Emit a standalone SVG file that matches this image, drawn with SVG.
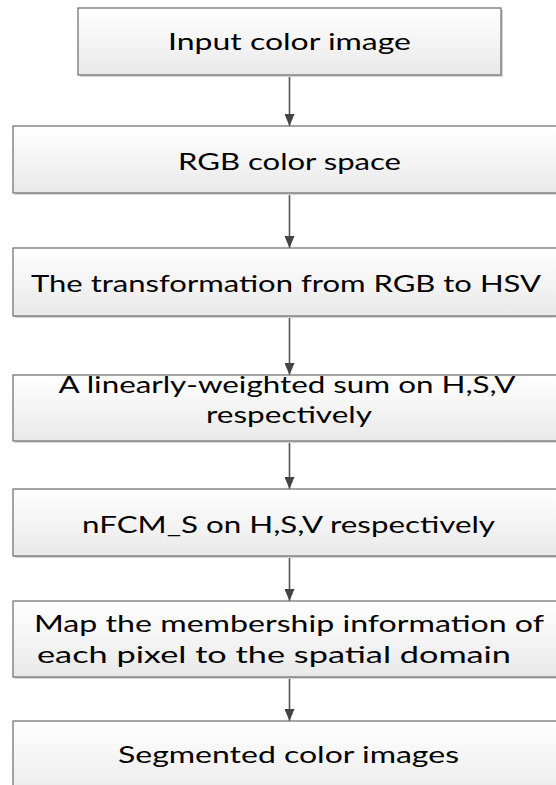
<svg xmlns="http://www.w3.org/2000/svg" width="556" height="785" viewBox="0 0 556 785">
<defs>
<linearGradient id="g" x1="0" y1="0" x2="0" y2="1">
<stop offset="0" stop-color="#ffffff"/>
<stop offset="1" stop-color="#e9e9e9"/>
</linearGradient>
<marker id="ah" markerWidth="12" markerHeight="10" refX="12" refY="5" orient="auto" markerUnits="userSpaceOnUse">
<path d="M0,0 L12,5 L0,10 Z" fill="#444"/>
</marker>
<style>
.sh{fill:#d6d6d6;}
.bx{fill:url(#g);stroke:#6a6a6a;stroke-width:1.2;}
.t{font-family:Lato,"Open Sans","DejaVu Sans",sans-serif;font-size:24px;fill:#000;text-anchor:middle;}
.c{stroke:#555;stroke-width:1.6;fill:none;marker-end:url(#ah);}
</style>
</defs>
<rect width="556" height="785" fill="#fff"/>
<g id="connectors">
<line class="c" x1="289.5" y1="75" x2="289.5" y2="126"/>
<line class="c" x1="289.5" y1="193" x2="289.5" y2="248"/>
<line class="c" x1="289.5" y1="316" x2="289.5" y2="375"/>
<line class="c" x1="289.5" y1="441" x2="289.5" y2="489"/>
<line class="c" x1="289.5" y1="556" x2="289.5" y2="601"/>
<line class="c" x1="289.5" y1="677" x2="289.5" y2="721"/>
</g>
<g id="n1">
<rect class="sh" x="80" y="10" width="423" height="67"/>
<rect class="bx" x="78" y="8" width="423" height="67"/>
<text class="t" x="289.5" y="50" textLength="243" lengthAdjust="spacingAndGlyphs">Input color image</text>
</g>
<g id="n2">
<rect class="sh" x="15" y="128" width="560" height="67"/>
<rect class="bx" x="13" y="126" width="560" height="67"/>
<text class="t" x="289.5" y="170" textLength="223" lengthAdjust="spacingAndGlyphs">RGB color space</text>
</g>
<g id="n3">
<rect class="sh" x="15" y="250" width="560" height="68"/>
<rect class="bx" x="13" y="248" width="560" height="68"/>
<text class="t" x="286" y="292" textLength="510" lengthAdjust="spacingAndGlyphs">The transformation from RGB to HSV</text>
</g>
<g id="n4">
<rect class="sh" x="15" y="377" width="560" height="66"/>
<rect class="bx" x="13" y="375" width="560" height="66"/>
<text class="t"><tspan x="287" y="393" textLength="457" lengthAdjust="spacingAndGlyphs">A linearly-weighted sum on H,S,V</tspan><tspan x="289" y="423" textLength="166" lengthAdjust="spacingAndGlyphs">respectively</tspan></text>
</g>
<g id="n5">
<rect class="sh" x="15" y="491" width="560" height="67"/>
<rect class="bx" x="13" y="489" width="560" height="67"/>
<text class="t" x="288.5" y="533" textLength="413" lengthAdjust="spacingAndGlyphs">nFCM_S on H,S,V respectively</text>
</g>
<g id="n6">
<rect class="sh" x="15" y="603" width="560" height="76"/>
<rect class="bx" x="13" y="601" width="560" height="76"/>
<text class="t"><tspan x="289" y="632" textLength="510" lengthAdjust="spacingAndGlyphs">Map the membership information of</tspan><tspan x="274" y="663" textLength="474" lengthAdjust="spacingAndGlyphs">each pixel to the spatial domain</tspan></text>
</g>
<g id="n7">
<rect class="sh" x="15" y="723" width="560" height="80"/>
<rect class="bx" x="13" y="721" width="560" height="80"/>
<text class="t" x="288.5" y="763" textLength="341" lengthAdjust="spacingAndGlyphs">Segmented color images</text>
</g>
</svg>
